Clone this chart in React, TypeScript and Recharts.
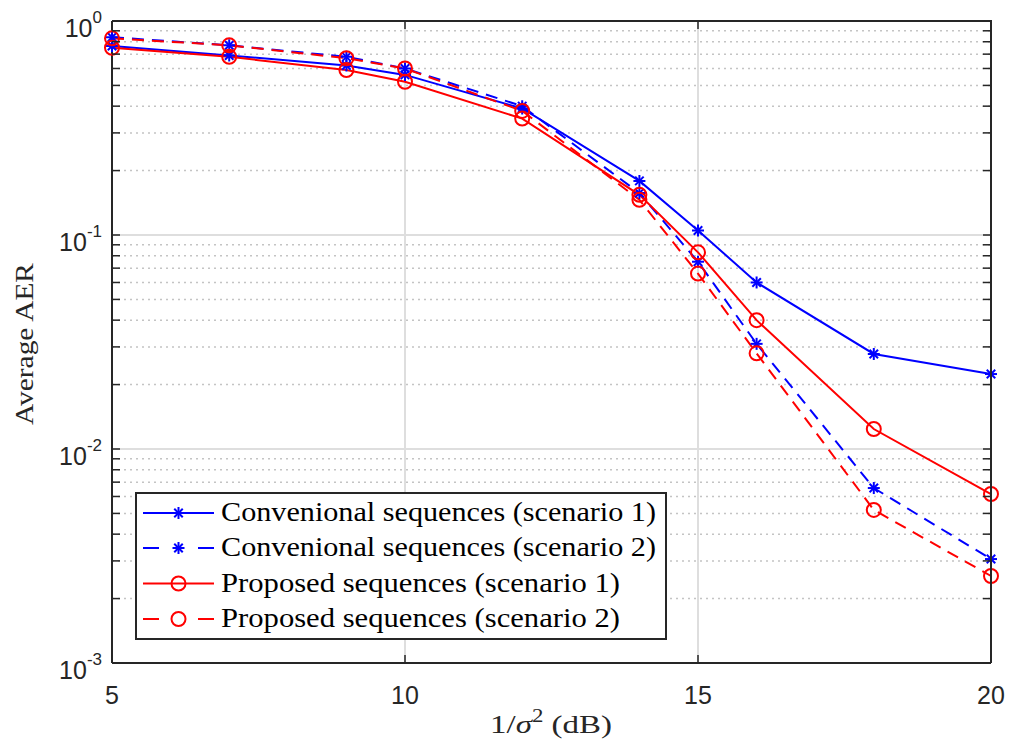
import { LineChart, Line, XAxis, YAxis, CartesianGrid } from "recharts";

const xValues = [5, 7, 9, 10, 12, 14, 15, 16, 18, 20];
const convS1 = [0.764, 0.69, 0.62, 0.56, 0.39, 0.179, 0.105, 0.06, 0.0278, 0.0224];
const convS2 = [0.84, 0.77, 0.68, 0.6, 0.4, 0.157, 0.075, 0.031, 0.00657, 0.00306];
const propS1 = [0.75, 0.68, 0.59, 0.52, 0.35, 0.154, 0.083, 0.04, 0.0124, 0.00616];
const propS2 = [0.83, 0.77, 0.67, 0.6, 0.38, 0.146, 0.066, 0.028, 0.00519, 0.00255];

const xTicks = [5, 10, 15, 20];
const majorTicks = [0.001, 0.01, 0.1, 1];
const minorSteps = [2, 3, 4, 5, 6, 7, 8, 9];
const minorTicks = majorTicks.slice(0, -1).flatMap(d => minorSteps.map(m => +(m * d).toPrecision(3)));
const allYTicks = [...majorTicks, ...minorTicks];

const seriesNames = [
  "Convenional sequences (scenario 1)",
  "Convenional sequences (scenario 2)",
  "Proposed sequences (scenario 1)",
  "Proposed sequences (scenario 2)",
];
// rendered widths of the legend strings in the reference (px)
const nameWidths = [435, 435, 399, 399];

const data = xValues.map((x, i) => ({
  x,
  c1: convS1[i],
  c2: convS2[i],
  p1: propS1[i],
  p2: propS2[i],
}));

const W = 1013, H = 751;
const MARGIN = { top: 21, right: 22, bottom: 48, left: 52 };
const Y_W = 60, X_H = 40;
const PLOT_L = MARGIN.left + Y_W;
const PLOT_W = W - MARGIN.left - MARGIN.right - Y_W;
const PLOT_H = H - MARGIN.top - MARGIN.bottom - X_H;
const X_DOMAIN = [5, 20];
const Y_DOMAIN = [0.001, 1];

// axis-frame helpers (same mapping as the chart's own axes)
const frameX = (v: number) => PLOT_L + (PLOT_W * (v - X_DOMAIN[0])) / (X_DOMAIN[1] - X_DOMAIN[0]);
const frameY = (v: number) =>
  MARGIN.top + (PLOT_H * (Math.log10(Y_DOMAIN[1]) - Math.log10(v))) / (Math.log10(Y_DOMAIN[1]) - Math.log10(Y_DOMAIN[0]));

const AXIS = "#262626";
const BLUE = "#0000ff";
const RED = "#ff0000";
const DASH = "12 8";
const SANS = "'Liberation Sans', Arial, sans-serif";
const SERIF = "'Liberation Serif', 'Times New Roman', serif";
const TICK = 8;

function Star({ cx, cy, color }: any) {
  const r = 6;
  const d = r * 0.707;
  return (
    <g stroke={color} strokeWidth={2}>
      <line x1={cx - r} y1={cy} x2={cx + r} y2={cy} />
      <line x1={cx} y1={cy - r} x2={cx} y2={cy + r} />
      <line x1={cx - d} y1={cy - d} x2={cx + d} y2={cy + d} />
      <line x1={cx - d} y1={cy + d} x2={cx + d} y2={cy - d} />
    </g>
  );
}

function Ring({ cx, cy, color }: any) {
  return <circle cx={cx} cy={cy} r={7} fill="none" stroke={color} strokeWidth={2} />;
}

const starDot = (color: string) => (p: any) =>
  p.cx == null ? <g key={p.index} /> : <Star key={p.index} cx={p.cx} cy={p.cy} color={color} />;
const ringDot = (color: string) => (p: any) =>
  p.cx == null ? <g key={p.index} /> : <Ring key={p.index} cx={p.cx} cy={p.cy} color={color} />;

function isMajor(v: number) {
  const l = Math.log10(v);
  return Math.abs(l - Math.round(l)) < 1e-9;
}

function LeftTick({ x, y, payload }: any) {
  const v = payload.value;
  return (
    <g>
      <line x1={x} x2={x + TICK} y1={y} y2={y} stroke={AXIS} strokeWidth={1.5} />
      {isMajor(v) && (
        <text x={x - 10} y={y + 16} textAnchor="end" fontFamily={SANS} fontSize={25} fill={AXIS}>
          <tspan>10</tspan>
          <tspan dy={-14} fontSize={17}>{Math.round(Math.log10(v))}</tspan>
        </text>
      )}
    </g>
  );
}

function BottomTick({ x, y, payload }: any) {
  return (
    <g>
      <line x1={x} x2={x} y1={y} y2={y - TICK} stroke={AXIS} strokeWidth={1.5} />
      <text x={x} y={y + 41} textAnchor="middle" fontFamily={SANS} fontSize={25} fill={AXIS}>
        {payload.value}
      </text>
    </g>
  );
}

function Frame() {
  const right = PLOT_L + PLOT_W;
  const top = MARGIN.top;
  return (
    <g stroke={AXIS}>
      <line x1={PLOT_L} x2={right + 1} y1={top} y2={top} strokeWidth={2} />
      <line x1={right} x2={right} y1={top} y2={top + PLOT_H} strokeWidth={2} />
      {allYTicks.map(v => (
        <line key={"r" + v} x1={right} x2={right - TICK} y1={frameY(v)} y2={frameY(v)} strokeWidth={1.5} />
      ))}
      {xTicks.slice(1, -1).map(v => (
        <line key={"t" + v} x1={frameX(v)} x2={frameX(v)} y1={top} y2={top + TICK} strokeWidth={1.5} />
      ))}
    </g>
  );
}

function LegendBox() {
  const left = 136, top = 493, w = 530, h = 146;
  const rowY = [513, 548, 583.5, 619];
  return (
    <g>
      <rect x={left} y={top} width={w} height={h} fill="#fff" stroke={AXIS} strokeWidth={2} />
      {seriesNames.map((name, i) => {
        const color = i < 2 ? BLUE : RED;
        const dashed = i % 2 === 1;
        const cy = rowY[i];
        return (
          <g key={name}>
            <line x1={143} x2={214} y1={cy} y2={cy} stroke={color} strokeWidth={2}
              strokeDasharray={dashed ? "16 39 16" : undefined} />
            {i < 2 ? <Star cx={178.5} cy={cy} color={color} /> : <Ring cx={178.5} cy={cy} color={color} />}
            <text x={221} y={cy + 8} fontFamily={SERIF} fontSize={28} fill="#000"
              textLength={nameWidths[i]} lengthAdjust="spacingAndGlyphs">{name}</text>
          </g>
        );
      })}
    </g>
  );
}

export default function App() {
  return (
    <div style={{ position: "absolute", left: 0, top: 0, width: W, height: H, background: "#fff" }}>
      <LineChart width={W} height={H} data={data} margin={MARGIN}>
        <CartesianGrid horizontalValues={minorTicks} vertical={false} stroke="#c4c4c4" strokeDasharray="2 4" strokeWidth={1.5} />
        <CartesianGrid horizontalValues={majorTicks} verticalValues={xTicks} stroke="#dedede" strokeWidth={2} />
        <XAxis dataKey="x" type="number" domain={X_DOMAIN} ticks={xTicks} interval={0} height={X_H} tickSize={0} tickMargin={0}
          tickLine={false} tick={<BottomTick />} axisLine={{ stroke: AXIS, strokeWidth: 2 }} />
        <YAxis scale="log" type="number" domain={Y_DOMAIN} allowDataOverflow ticks={allYTicks} interval={0}
          width={Y_W} tickSize={0} tickMargin={0} tickLine={false} tick={<LeftTick />} axisLine={{ stroke: AXIS, strokeWidth: 2 }} />
        <Line dataKey="c1" type="linear" stroke={BLUE} strokeWidth={2} dot={starDot(BLUE)} isAnimationActive={false} />
        <Line dataKey="c2" type="linear" stroke={BLUE} strokeWidth={2} strokeDasharray={DASH} dot={starDot(BLUE)} isAnimationActive={false} />
        <Line dataKey="p1" type="linear" stroke={RED} strokeWidth={2} dot={ringDot(RED)} isAnimationActive={false} />
        <Line dataKey="p2" type="linear" stroke={RED} strokeWidth={2} strokeDasharray={DASH} dot={ringDot(RED)} isAnimationActive={false} />
      </LineChart>

      <svg width={W} height={H} style={{ position: "absolute", left: 0, top: 0, pointerEvents: "none" }}>
        <Frame />
        <text x={490} y={733} fontFamily={SERIF} fontSize={26} fill={AXIS} textLength={122} lengthAdjust="spacingAndGlyphs">
          <tspan>1/</tspan>
          <tspan fontStyle="italic">σ</tspan>
          <tspan dy={-11} fontSize={18}>2</tspan>
          <tspan dy={11}> (dB)</tspan>
        </text>
        <text x={0} y={0} transform="translate(33 344) rotate(-90)" textAnchor="middle" fontFamily={SERIF} fontSize={26}
          fill={AXIS} textLength={162} lengthAdjust="spacingAndGlyphs">
          Average AER
        </text>
        <LegendBox />
      </svg>
    </div>
  );
}
